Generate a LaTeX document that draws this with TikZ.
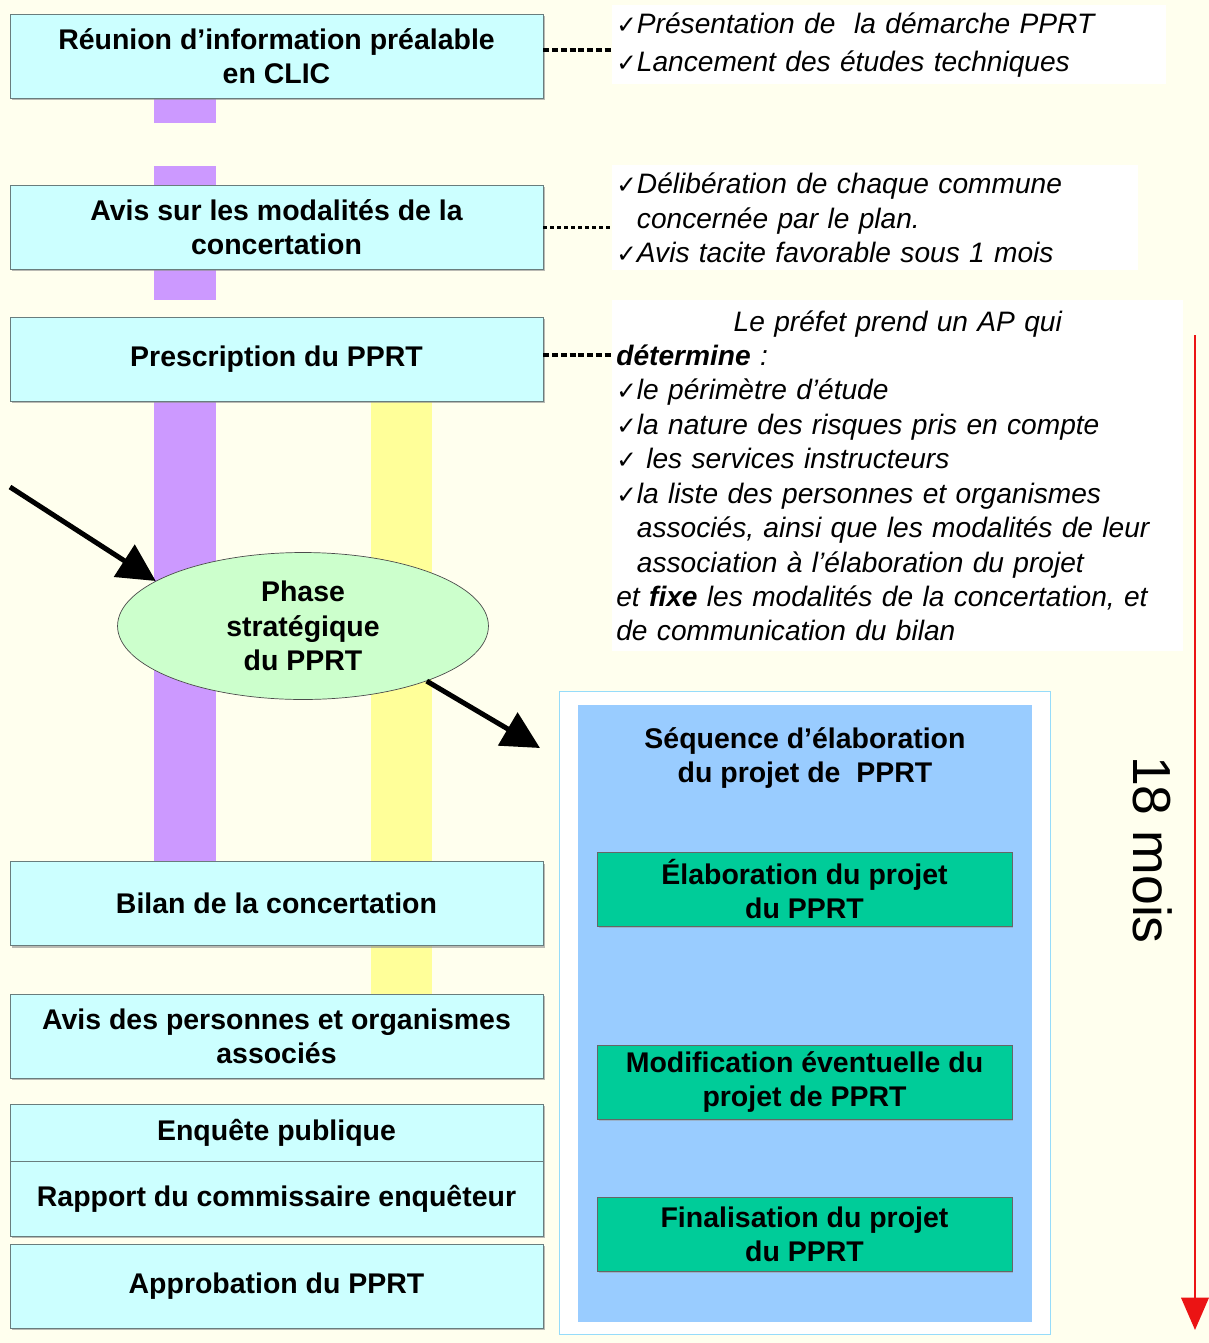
\documentclass[tikz,border=0pt]{standalone}
\usepackage{fontspec}
\setmainfont{Liberation Sans}
\newfontfamily\symfont{DejaVu Sans}
\usetikzlibrary{positioning,arrows.meta,shapes.geometric,shadows}
\definecolor{cream}{RGB}{255,255,238}
\definecolor{stagecyan}{RGB}{204,255,255}
\definecolor{stageline}{RGB}{105,125,125}
\definecolor{lilac}{RGB}{204,153,255}
\definecolor{paleyellow}{RGB}{255,255,153}
\definecolor{palegreen}{RGB}{204,255,204}
\definecolor{seqblue}{RGB}{153,204,255}
\definecolor{seqframe}{RGB}{150,220,250}
\definecolor{taskgreen}{RGB}{0,204,153}
\definecolor{timered}{RGB}{235,20,20}
\newcommand{\chk}{{\symfont\upshape\fontsize{14}{14}\selectfont ✓}}
\newcommand{\chkgap}{\phantom{\chk}}

\begin{document}
\begin{tikzpicture}[
    x=0.02cm, y=-0.02cm,
    stage/.style={
        draw=stageline,
        fill=stagecyan,
        minimum width=10.66cm,
        minimum height=1.68cm,
        align=center,
        font=\bfseries\fontsize{16.2}{19.5}\selectfont,
        drop shadow={shadow xshift=0.04cm, shadow yshift=-0.04cm, fill=black!45, opacity=0.6}
    },
    note/.style={
        fill=white,
        anchor=north west,
        align=left,
        inner xsep=0.08cm,
        font=\itshape\fontsize{16}{19.6}\selectfont
    },
    task/.style={
        draw=black!60,
        fill=taskgreen,
        minimum width=8.3cm,
        minimum height=1.48cm,
        align=center,
        font=\bfseries\fontsize{16.2}{19.5}\selectfont,
        drop shadow={shadow xshift=0.03cm, shadow yshift=-0.03cm, fill=black!40, opacity=0.5}
    },
    bigarr/.style={
        -{Triangle[length=0.75cm, width=0.75cm]},
        line width=0.1cm
    },
    dots/.style={
        line width=0.08cm,
        dash pattern=on 0.12cm off 0.055cm
    }
]

% background and margins
\fill[cream] (0,0) rectangle (1209,1343);
\useasboundingbox (0,0) rectangle (1209,1343);

% vertical bars behind the stages
\fill[lilac] (154,98) rectangle (216,123);
\fill[lilac] (154,166) rectangle (216,185);
\fill[lilac] (154,269) rectangle (216,300);
\fill[lilac] (154,401) rectangle (216,861);
\fill[paleyellow] (371,401) rectangle (432,994);

% stages
\node[stage] (reunion) at (276.5,56) {Réunion d’information préalable\\en CLIC};
\node[stage] (avismod) at (276.5,227) {Avis sur les modalités de la\\concertation};
\node[stage] (prescr) at (276.5,359) {Prescription du PPRT};
\node[stage] (bilan) at (276.5,903.5) {Bilan de la concertation};
\node[stage] (avispoa) at (276.5,1036) {Avis des personnes et organismes\\associés};
\node[stage, minimum height=1.14cm] (enquete) at (276.5,1132.5) {Enquête publique};
\node[stage, minimum height=1.5cm] (rapport) at (276.5,1198.5) {Rapport du commissaire enquêteur};
\node[stage] (approb) at (276.5,1286) {Approbation du PPRT};

% notes
\node[note, text width=10.92cm, minimum height=1.58cm,
      font=\itshape\fontsize{16}{21.5}\selectfont] (notereunion) at (612,5)
    {\chk Présentation de\ \ la démarche PPRT\\
     \chk Lancement des études techniques};
\node[note, text width=10.36cm, minimum height=2.1cm] (noteavis) at (612,165)
    {\chk Délibération de chaque commune\\
     \chkgap concernée par le plan.\\
     \chk Avis tacite favorable sous 1 mois};
\node[note, text width=11.26cm, minimum height=7.02cm] (noteprescr) at (612,300)
    {\null\hfill Le préfet prend un AP qui\hfill\null\\
     \textbf{détermine} :\\
     \chk le périmètre d’étude\\
     \chk la nature des risques pris en compte\\
     \chk\ les services instructeurs\\
     \chk la liste des personnes et organismes\\
     \chkgap associés, ainsi que les modalités de leur\\
     \chkgap association à l’élaboration du projet\\
     et \textbf{fixe} les modalités de la concertation, et\\
     de communication du bilan};

\draw[dots] ([yshift=0.12cm]reunion.east) -- ([yshift=0.12cm]reunion.east -| notereunion.west);
\draw[dots, line width=0.06cm, dash pattern=on 0.07cm off 0.07cm] (avismod.east) -- (avismod.east -| noteavis.west);
\draw[dots] ([yshift=0.08cm]prescr.east) -- ([yshift=0.08cm]prescr.east -| noteprescr.west);

% strategic phase
\node[ellipse, draw=black!70, fill=palegreen, minimum width=7.42cm, minimum height=2.94cm,
      inner sep=0pt, align=center, font=\bfseries\fontsize{16.2}{19.5}\selectfont]
    (phase) at (303,626) {Phase\\stratégique\\du PPRT};

% sequence frame
\node[draw=seqframe, line width=0.6pt, fill=white, minimum width=9.84cm, minimum height=12.88cm] (seqframe) at (805,1013) {};
\node[fill=seqblue, minimum width=9.08cm, minimum height=12.34cm] (seqbox) at (805,1013.5) {};
\node[align=center, font=\bfseries\fontsize{16.2}{19.5}\selectfont] (seqtitle) at (805,758)
    {Séquence d’élaboration\\du projet de\ \ PPRT};
\node[task] (elab) at (804.5,889) {Élaboration du projet\\du PPRT};
\node[task] (modif) at (804.5,1082) {Modification éventuelle du\\projet de PPRT};
\node[task] (final) at (804.5,1234) {Finalisation du projet\\du PPRT};

% arrows
\coordinate (entry) at (10,487);
\coordinate (exit) at (540,748);
\draw[bigarr] (entry) -- (phase.163);
\draw[bigarr] (phase.-24) -- (exit);

% time line
\coordinate (tstart) at (1195,335);
\coordinate (tend) at (1195,1330);
\draw[timered, line width=0.05cm, -{Triangle[length=0.65cm, width=0.55cm]}] (tstart) -- (tend);
\node[rotate=-90, font=\fontsize{30.5}{34}\selectfont] (duree) at (1153,850) {18 mois};

\end{tikzpicture}
\end{document}
